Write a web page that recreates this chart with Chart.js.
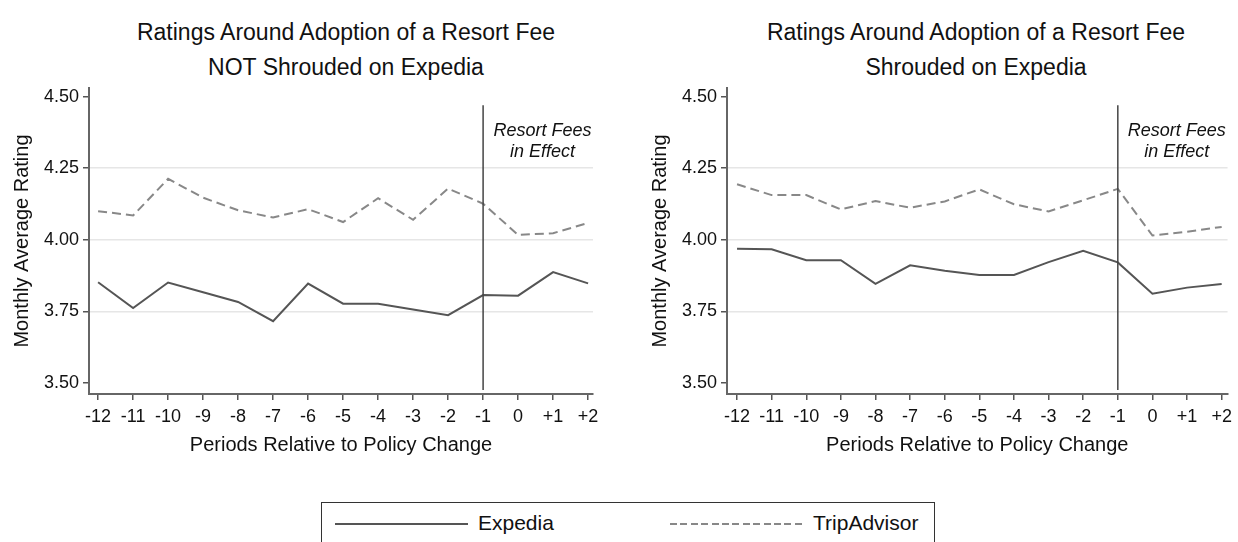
<!DOCTYPE html>
<html lang="en">
<head>
<meta charset="UTF-8">
<title>Ratings Around Adoption of a Resort Fee</title>
<script src="https://cdn.jsdelivr.net/npm/chart.js"></script>
<style>
  body { margin: 0; background: #fff; font-family: "Liberation Sans", Arial, sans-serif; color: #111; }
  #page { position: relative; width: 1238px; height: 542px; overflow: hidden; }
  .title { position: absolute; top: 15px; width: 560px; text-align: center; font-size: 23px; line-height: 35px; }
  .box { position: absolute; top: 70px; height: 400px; }
  #legend { position: absolute; left: 321px; top: 502px; width: 612px; height: 60px; border: 1px solid #333; }
  .sample { position: absolute; top: 20px; height: 2px; }
  .ltext { position: absolute; top: 8px; font-size: 21px; line-height: 24px; }
</style>
</head>
<body>
<div id="page">
  <div class="title" style="left:66px">Ratings Around Adoption of a Resort Fee<br>NOT Shrouded on Expedia</div>
  <div class="title" style="left:696px">Ratings Around Adoption of a Resort Fee<br>Shrouded on Expedia</div>

  <div class="box" style="left:0; width:620px;"><canvas id="leftChart"></canvas></div>
  <div class="box" style="left:638px; width:600px;"><canvas id="rightChart"></canvas></div>

  <div id="legend">
    <div class="sample" style="left:13px; width:133px; background:#555;"></div>
    <div class="ltext" style="left:156px">Expedia</div>
    <div class="sample" style="left:348px; width:135px; background:repeating-linear-gradient(to right, #888 0 7px, transparent 7px 10.4px);"></div>
    <div class="ltext" style="left:491px">TripAdvisor</div>
  </div>
</div>

<script>
// periods relative to the policy change
const periods = [-12, -11, -10, -9, -8, -7, -6, -5, -4, -3, -2, -1, 0, 1, 2];

// resort fee NOT shrouded on Expedia
const leftExpedia = [3.852, 3.762, 3.851, 3.817, 3.783, 3.716, 3.847, 3.777, 3.777, 3.757, 3.737, 3.807, 3.805, 3.887, 3.848];
const leftTripAdvisor = [4.100, 4.085, 4.213, 4.147, 4.103, 4.078, 4.107, 4.062, 4.145, 4.070, 4.179, 4.126, 4.017, 4.023, 4.059];

// resort fee shrouded on Expedia
const rightExpedia = [3.969, 3.967, 3.929, 3.929, 3.846, 3.911, 3.892, 3.877, 3.877, 3.922, 3.962, 3.921, 3.812, 3.833, 3.846];
const rightTripAdvisor = [4.194, 4.156, 4.156, 4.106, 4.135, 4.112, 4.134, 4.176, 4.124, 4.099, 4.138, 4.178, 4.015, 4.028, 4.045];

const yTicks = [3.50, 3.75, 4.00, 4.25, 4.50];
const yGrid = [3.75, 4.00, 4.25];
const policyPeriod = -1;
const noteLines = ['Resort Fees', 'in Effect'];

const FONT = '"Liberation Sans", Arial, sans-serif';

// vertical line at the policy change plus the italic note
const policyLine = {
    id: 'policyLine',
    afterDatasetsDraw(chart) {
        const {ctx, scales: {x, y}} = chart;
        const px = x.getPixelForValue(policyPeriod);
        ctx.save();
        ctx.strokeStyle = '#444';
        ctx.lineWidth = 1.5;
        ctx.beginPath();
        ctx.moveTo(px, y.getPixelForValue(4.47));
        ctx.lineTo(px, chart.chartArea.bottom - 4);
        ctx.stroke();

        ctx.fillStyle = '#111';
        ctx.font = 'italic 18px ' + FONT;
        ctx.textAlign = 'center';
        ctx.textBaseline = 'middle';
        const tx = x.getPixelForValue(0.7);
        ctx.fillText(noteLines[0], tx, y.getPixelForValue(4.38));
        ctx.fillText(noteLines[1], tx, y.getPixelForValue(4.307));
        ctx.restore();
    }
};

function makeChart(id, expedia, trip, xMin, xMax, padRight) {
    const pts = arr => arr.map((v, i) => ({x: periods[i], y: v}));
    return new Chart(document.getElementById(id), {
        type: 'line',
        data: {
            datasets: [
                {
                    label: 'Expedia',
                    data: pts(expedia),
                    borderColor: '#555',
                    borderWidth: 2,
                    pointRadius: 0,
                    tension: 0
                },
                {
                    label: 'TripAdvisor',
                    data: pts(trip),
                    borderColor: '#888',
                    borderWidth: 2,
                    borderDash: [9, 5],
                    pointRadius: 0,
                    tension: 0
                }
            ]
        },
        options: {
            responsive: true,
            maintainAspectRatio: false,
            animation: false,
            layout: { padding: { top: 18, right: padRight, left: 0, bottom: 0 } },
            plugins: {
                legend: { display: false },
                title: { display: false },
                tooltip: { enabled: false }
            },
            scales: {
                x: {
                    type: 'linear',
                    min: xMin,
                    max: xMax,
                    afterBuildTicks: s => { s.ticks = periods.map(v => ({value: v})); },
                    afterFit: s => { s.height = 76; },
                    border: { display: true, color: '#666', width: 2 },
                    grid: { drawOnChartArea: false, drawTicks: true, tickLength: 6, tickColor: '#555', lineWidth: 1.5 },
                    ticks: {
                        autoSkip: false,
                        maxRotation: 0,
                        padding: 6,
                        color: '#111',
                        font: { family: FONT, size: 18 },
                        callback: v => v > 0 ? '+' + v : String(v)
                    },
                    title: {
                        display: true,
                        text: 'Periods Relative to Policy Change',
                        color: '#111',
                        font: { family: FONT, size: 20 },
                        padding: { top: 0, bottom: 13 }
                    }
                },
                y: {
                    min: 3.4616,
                    max: 4.53,
                    afterBuildTicks: s => { s.ticks = yTicks.map(v => ({value: v})); },
                    afterFit: s => { s.width = 89; },
                    border: { display: true, color: '#666', width: 2 },
                    grid: {
                        color: c => (c.tick && yGrid.includes(c.tick.value)) ? '#e6e6e6' : 'rgba(0,0,0,0)',
                        lineWidth: 1.5,
                        tickLength: 6,
                        tickColor: '#555'
                    },
                    ticks: {
                        padding: 4,
                        color: '#111',
                        font: { family: FONT, size: 18 },
                        callback: v => Number(v).toFixed(2)
                    },
                    title: {
                        display: true,
                        text: 'Monthly Average Rating',
                        color: '#111',
                        font: { family: FONT, size: 20 },
                        padding: { top: 10, bottom: 0 }
                    }
                }
            }
        },
        plugins: [policyLine]
    });
}

makeChart('leftChart', leftExpedia, leftTripAdvisor, -12.26, 2.14, 27);
makeChart('rightChart', rightExpedia, rightTripAdvisor, -12.29, 2.17, 6);
</script>
</body>
</html>
